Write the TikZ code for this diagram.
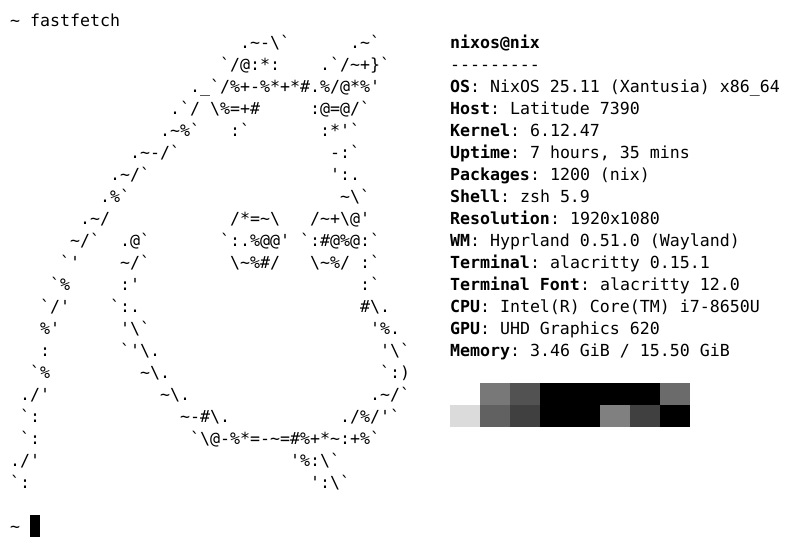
\documentclass[tikz,border=0pt]{standalone}
\usepackage{fontspec}
\setmonofont{DejaVu Sans Mono}
\newlength{\cellw}
\setlength{\cellw}{10pt}
\newcommand{\gap}[1]{\hspace*{#1\cellw}}
\newcommand{\bsl}{\textbackslash{}}
\newcommand{\tld}{\textasciitilde{}}
\begin{document}
\begin{tikzpicture}[x=1pt, y=-1pt, node distance=22pt]
    \tikzstyle{term}=[inner sep=0pt, anchor=base west, font=\ttfamily\fontsize{16.61}{22}\selectfont];
    \tikzstyle{info}=[inner sep=0pt, text width=340pt, align=flush left, text height=13pt, text depth=5pt, font=\ttfamily\fontsize{16.61}{22}\selectfont];

    \useasboundingbox (0,0) rectangle (801,546);

    \node[term] (prompt) at (10,26) {\tld{} fastfetch};

    \node[term] (logo1) at (240,48) {.\tld-\bsl`\gap{6}.\tld`};
    \node[term] (logo2) at (220,70) {`/@:*:\gap{4}.`/\tld+\}`};
    \node[term] (logo3) at (190,92) {.\_`/\%+-\%*+*\#.\%/@*\%'};
    \node[term] (logo4) at (170,114) {.`/\gap{1}\bsl\%=+\#\gap{5}:@=@/`};
    \node[term] (logo5) at (160,136) {.\tld\%`\gap{3}:`\gap{7}:*'`};
    \node[term] (logo6) at (130,158) {.\tld-/`\gap{15}-:`};
    \node[term] (logo7) at (110,180) {.\tld/`\gap{18}':.};
    \node[term] (logo8) at (100,202) {.\%`\gap{21}\tld\bsl`};
    \node[term] (logo9) at (80,224) {.\tld/\gap{12}/*=\tld\bsl\gap{3}/\tld+\bsl@'};
    \node[term] (logo10) at (70,246) {\tld/`\gap{2}.@`\gap{7}`:.\%@@'\gap{1}`:\#@\%@:`};
    \node[term] (logo11) at (60,268) {`'\gap{4}\tld/`\gap{8}\bsl\tld\%\#/\gap{3}\bsl\tld\%/\gap{1}:`};
    \node[term] (logo12) at (50,290) {`\%\gap{5}:'\gap{22}:`};
    \node[term] (logo13) at (40,312) {`/'\gap{4}`:.\gap{22}\#\bsl.};
    \node[term] (logo14) at (40,334) {\%'\gap{6}'\bsl`\gap{22}'\%.};
    \node[term] (logo15) at (40,356) {:\gap{7}`'\bsl.\gap{22}'\bsl`};
    \node[term] (logo16) at (30,378) {`\%\gap{9}\tld\bsl.\gap{21}`:)};
    \node[term] (logo17) at (20,400) {./'\gap{11}\tld\bsl.\gap{18}.\tld/`};
    \node[term] (logo18) at (20,422) {`:\gap{14}\tld-\#\bsl.\gap{11}./\%/'`};
    \node[term] (logo19) at (20,444) {`:\gap{15}`\bsl@-\%*=-\tld=\#\%+*\tld:+\%`};
    \node[term] (logo20) at (10,466) {./'\gap{25}'\%:\bsl`};
    \node[term] (logo21) at (10,488) {`:\gap{28}':\bsl`};

    \node[info] (title) at (620,44) {\bfseries nixos@nix};
    \node[info, below of=title] (rule) {---------};
    \node[info, below of=rule] (os) {{\bfseries OS}: NixOS 25.11 (Xantusia) x86\_64};
    \node[info, below of=os] (host) {{\bfseries Host}: Latitude 7390};
    \node[info, below of=host] (kernel) {{\bfseries Kernel}: 6.12.47};
    \node[info, below of=kernel] (uptime) {{\bfseries Uptime}: 7 hours, 35 mins};
    \node[info, below of=uptime] (packages) {{\bfseries Packages}: 1200 (nix)};
    \node[info, below of=packages] (shell) {{\bfseries Shell}: zsh 5.9};
    \node[info, below of=shell] (resolution) {{\bfseries Resolution}: 1920x1080};
    \node[info, below of=resolution] (wm) {{\bfseries WM}: Hyprland 0.51.0 (Wayland)};
    \node[info, below of=wm] (terminal) {{\bfseries Terminal}: alacritty 0.15.1};
    \node[info, below of=terminal] (termfont) {{\bfseries Terminal Font}: alacritty 12.0};
    \node[info, below of=termfont] (cpu) {{\bfseries CPU}: Intel(R) Core(TM) i7-8650U};
    \node[info, below of=cpu] (gpu) {{\bfseries GPU}: UHD Graphics 620};
    \node[info, below of=gpu] (memory) {{\bfseries Memory}: 3.46 GiB / 15.50 GiB};

    \foreach \x/\shade in {450/0, 480/53, 510/68, 540/100, 570/100, 600/100, 630/100, 660/58}
        \fill[black!\shade] (\x,383) rectangle ++(30,22);
    \foreach \x/\shade in {450/14, 480/62, 510/75, 540/100, 570/100, 600/50, 630/75, 660/100}
        \fill[black!\shade] (\x,405) rectangle ++(30,22);

    \node[term] (prompt2) at (10,532) {\tld};
    \fill[black] (30,515) rectangle (40,537);
\end{tikzpicture}
\end{document}
